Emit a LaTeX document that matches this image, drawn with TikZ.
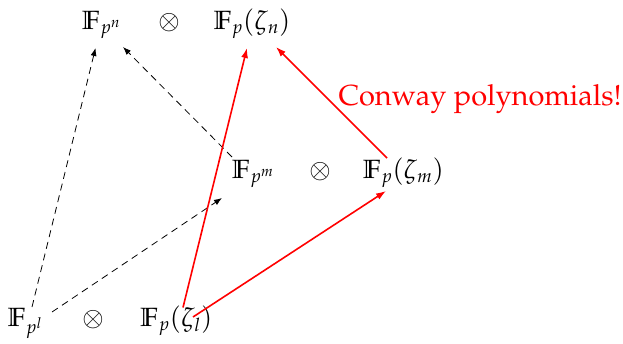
\documentclass[tikz,border=0pt]{standalone}
\usepackage[T1]{fontenc}
\usepackage{mathpazo}
\DeclareMathSizes{26.4}{26.4}{18.5}{15}
\usetikzlibrary{arrows.meta,calc}
\tikzset{
  term/.style={anchor=base west,inner sep=0pt,font=\fontsize{26.4}{31}\selectfont},
  opr/.style={anchor=base,inner sep=0pt,font=\fontsize{26.4}{31}\selectfont},
  emb/.style={draw=black,line width=0.8pt,dash pattern=on 7pt off 5pt,-{Latex[length=8pt,width=6pt]}},
  cw/.style={draw=red,line width=1.6pt,-{Latex[length=10pt,width=7pt]}}
}
\begin{document}
\begin{tikzpicture}[x=1pt,y=-1pt]
\useasboundingbox (0,0) rectangle (623,344);
\node[term] (Fpn) at (81.7,29.3) {$\mathbb{F}_{p^n}$};
\node[opr] (otn) at (169,29.3) {$\otimes$};
\node[term] (Fzn) at (213.3,29.3) {$\mathbb{F}_p(\zeta_n)$};
\node[term] (Fpm) at (231.7,178.3) {$\mathbb{F}_{p^m}$};
\node[opr] (otm) at (320,178.3) {$\otimes$};
\node[term] (Fzm) at (362.7,178.3) {$\mathbb{F}_p(\zeta_m)$};
\node[term] (Fpl) at (7.3,326.7) {$\mathbb{F}_{p^l}$};
\node[opr] (otl) at (93,326.7) {$\otimes$};
\node[term] (Fzl) at (140,326.7) {$\mathbb{F}_p(\zeta_l)$};
\node[anchor=base west,inner sep=0pt,text=red,font=\fontsize{29}{34}\selectfont] (cw) at (338.3,105.7) {Conway polynomials!};
\draw[emb] ($(Fpl.base west)+(24.7,-19.7)$) -- ($(Fpn.base west)+(13.8,18.7)$);
\draw[emb] ($(Fpl.base west)+(44.7,-14.7)$) -- ($(Fpm.base west)+(-9.7,19.7)$);
\draw[emb] ($(Fpm.base west)+(0.3,-21.3)$) -- ($(Fpn.base west)+(41.3,17.7)$);
\draw[cw] ($(Fzl.base west)+(43,-19.2)$) -- ($(Fzn.base west)+(33.7,18.7)$);
\draw[cw] ($(Fzl.base west)+(53,-9.7)$) -- ($(Fzm.base west)+(23.3,12.7)$);
\draw[cw] ($(Fzm.base west)+(24.3,-20.3)$) -- ($(Fzn.base west)+(62.7,17.7)$);
\end{tikzpicture}
\end{document}
